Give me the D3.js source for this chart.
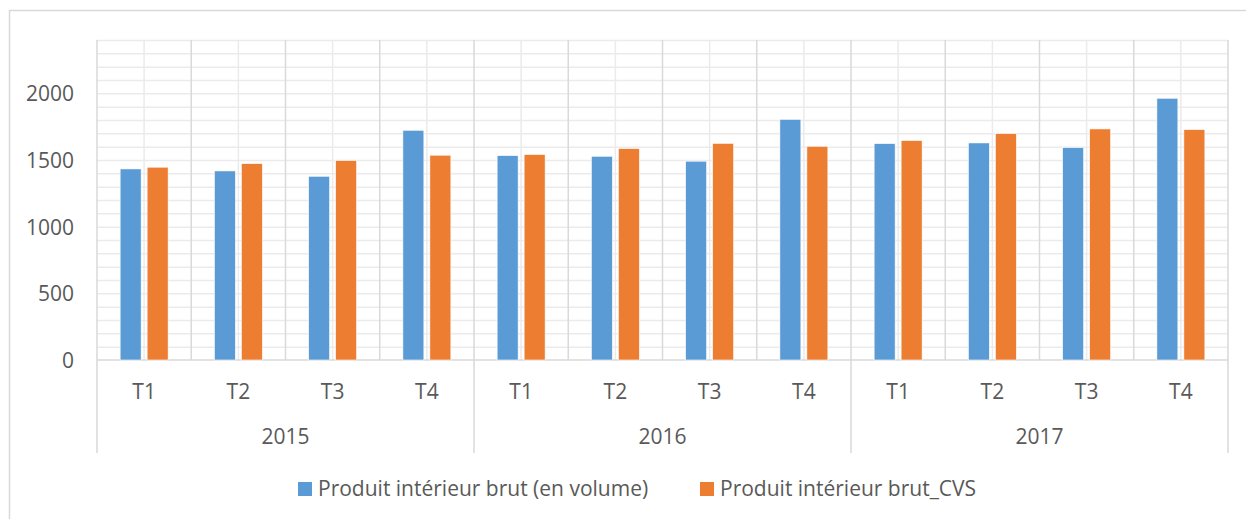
<!DOCTYPE html>
<html>
<head>
<meta charset="utf-8">
<script src="https://cdn.jsdelivr.net/npm/d3@7"></script>
<style>
  body { margin: 0; background: #fff; }
  text { font-family: "Open Sans", sans-serif; fill: #595959; }
</style>
</head>
<body>
<div id="main"></div>
<script>
const years = ["2015", "2016", "2017"];
const quarters = ["T1", "T2", "T3", "T4"];
const seriesNames = ["Produit intérieur brut (en volume)", "Produit intérieur brut_CVS"];
const volume = [1433, 1418, 1378, 1723, 1533, 1528, 1491, 1805, 1623, 1628, 1593, 1963];
const cvs = [1446, 1473, 1496, 1536, 1541, 1586, 1625, 1603, 1646, 1698, 1733, 1728];
const yTicks = [0, 500, 1000, 1500, 2000];
const yMax = 2400;
const minorStep = 100;
const colors = ["#5b9bd5", "#ed7d31"];

const ctx = {
    W: 1246,
    H: 519,
    left: 97,
    right: 1228,
    top: 40,
    base: 360
};

function createViz(){
    const svg = d3.select("#main").append("svg")
        .attr("width", ctx.W)
        .attr("height", ctx.H);

    // outer chart border
    svg.append("rect")
        .attr("x", 9.5).attr("y", 10.5)
        .attr("width", 1245).attr("height", 520)
        .attr("fill", "none").attr("stroke", "#d9d9d9").attr("stroke-width", 1.5);

    const cats = [];
    years.forEach(y => quarters.forEach(q => cats.push(y + "-" + q)));
    const rows = cats.map((c, i) => ({cat: c, q: quarters[i % 4], vals: [volume[i], cvs[i]]}));

    const x0 = d3.scaleBand().domain(cats).range([ctx.left, ctx.right]).padding(0);
    const x1 = d3.scaleBand().domain([0, 1]).range([0, x0.bandwidth()])
        .paddingInner(0.222).paddingOuter(0.857);
    const y = d3.scaleLinear().domain([0, yMax]).range([ctx.base, ctx.top]);

    const g = svg.append("g");

    // horizontal gridlines every 100
    g.append("g")
        .attr("transform", `translate(${ctx.left},0)`)
        .call(d3.axisLeft(y).tickValues(d3.range(minorStep, yMax + 1, minorStep))
            .tickSize(-(ctx.right - ctx.left)).tickFormat(""))
        .call(s => s.select(".domain").remove())
        .selectAll("line").attr("stroke", "#ebebeb").attr("stroke-width", 1.5);

    // vertical lines at category centres (light)
    g.append("g").selectAll("line")
        .data(cats).join("line")
        .attr("x1", d => x0(d) + x0.bandwidth() / 2)
        .attr("x2", d => x0(d) + x0.bandwidth() / 2)
        .attr("y1", ctx.top).attr("y2", ctx.base)
        .attr("stroke", "#ebebeb").attr("stroke-width", 1.5);

    // vertical lines between categories (darker)
    g.append("g").selectAll("line")
        .data(cats.slice(1)).join("line")
        .attr("x1", d => x0(d)).attr("x2", d => x0(d))
        .attr("y1", ctx.top)
        .attr("y2", (d, i) => ((i + 1) % 4 === 0) ? 453 : ctx.base)
        .attr("stroke", "#d9d9d9").attr("stroke-width", 1.5);

    // plot edges + baseline
    [ctx.left, ctx.right].forEach(xx => {
        g.append("line")
            .attr("x1", xx).attr("x2", xx)
            .attr("y1", ctx.top).attr("y2", 453)
            .attr("stroke", "#d9d9d9").attr("stroke-width", 1.5);
    });
    g.append("line")
        .attr("x1", ctx.left).attr("x2", ctx.right)
        .attr("y1", y(0)).attr("y2", y(0))
        .attr("stroke", "#d9d9d9").attr("stroke-width", 1.5);

    // bars
    g.append("g").selectAll("g")
        .data(rows).join("g")
        .attr("transform", d => `translate(${x0(d.cat)},0)`)
        .selectAll("rect")
        .data(d => d.vals.map((v, k) => ({k: k, v: v})))
        .join("rect")
        .attr("x", d => x1(d.k))
        .attr("width", x1.bandwidth())
        .attr("y", d => y(d.v))
        .attr("height", d => y(0) - y(d.v))
        .attr("fill", d => colors[d.k])
        .attr("stroke", "#fff").attr("stroke-width", 0.6);

    // y axis labels
    g.append("g")
        .attr("transform", "translate(74,0)")
        .call(d3.axisLeft(y).tickValues(yTicks).tickFormat(d3.format("d"))
            .tickSize(0).tickPadding(0))
        .call(s => s.select(".domain").remove())
        .selectAll("text")
        .style("font-size", "21px")
        .attr("dy", "0.35em");

    // quarter labels
    g.append("g").selectAll("text")
        .data(rows).join("text")
        .attr("x", d => x0(d.cat) + x0.bandwidth() / 2)
        .attr("y", 392)
        .attr("dy", "0.35em")
        .attr("text-anchor", "middle")
        .style("font-size", "21px")
        .text(d => d.q);

    // year labels
    g.append("g").selectAll("text")
        .data(years).join("text")
        .attr("x", (d, i) => (x0(cats[i * 4]) + x0(cats[i * 4 + 3]) + x0.bandwidth()) / 2)
        .attr("y", 437)
        .attr("dy", "0.35em")
        .attr("text-anchor", "middle")
        .style("font-size", "21px")
        .text(d => d);

    // legend
    const legX = [298, 700];
    const leg = svg.append("g").selectAll("g")
        .data(seriesNames).join("g")
        .attr("transform", (d, i) => `translate(${legX[i]},482)`);
    leg.append("rect")
        .attr("width", 14).attr("height", 14)
        .attr("fill", (d, i) => colors[i]);
    leg.append("text")
        .attr("x", 20).attr("y", 7)
        .attr("dy", "0.35em")
        .style("font-size", "21px")
        .text(d => d);
}

createViz();
</script>
</body>
</html>
